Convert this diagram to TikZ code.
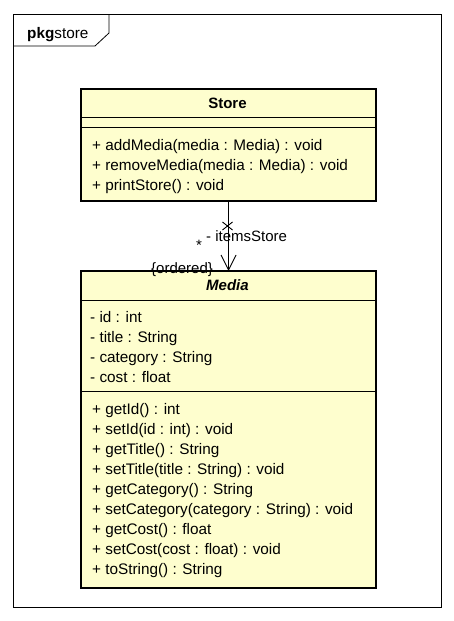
\documentclass[tikz,border=0pt]{standalone}
\usepackage{fontspec}
\setmainfont{Liberation Sans}
\definecolor{classfill}{HTML}{FEFECE}
\tikzset{
  classbox/.style={draw=black, line width=2.2pt, fill=classfill, minimum width=295pt, inner sep=0pt, anchor=north west},
  sepline/.style={line width=1pt},
  member/.style={anchor=base west, inner sep=0pt, font=\fontsize{15.3}{17}\selectfont},
  ctitle/.style={anchor=base, inner sep=0pt, font=\fontsize{15}{17}\selectfont\bfseries},
  lbl/.style={inner sep=0pt, font=\fontsize{15}{17}\selectfont},
  frameline/.style={line width=0.8pt}
}
\begin{document}
\begin{tikzpicture}[x=1pt,y=-1pt]
\useasboundingbox (0,0) rectangle (454,621);
% package frame
\draw[frameline] (13,14) rectangle (441,607);
\draw[frameline] (13,46) -- (95,46) -- (109,33) -- (109,14);
\node[anchor=base west, inner sep=0pt, font=\fontsize{15.3}{17}\selectfont] (pkg) at (27,38) {\textbf{pkg}store};

% Store class
\node[classbox, minimum height=112pt] (store) at (80,88) {};
\draw[sepline] (80,117) -- (375,117);
\draw[sepline] (80,127) -- (375,127);
\node[ctitle] (storetitle) at (227.5,108) {Store};
\node[member] (s1) at (92,150) {+ addMedia(media : Media) : void};
\node[member] (s2) at (92,170) {+ removeMedia(media : Media) : void};
\node[member] (s3) at (92,190) {+ printStore() : void};

% Media class
\node[classbox, minimum height=317pt] (media) at (80,270) {};
\draw[sepline] (80,300) -- (375,300);
\draw[sepline] (80,391) -- (375,391);
\node[ctitle, font=\fontsize{15}{17}\selectfont\bfseries\itshape] (mediatitle) at (227.5,290) {Media};
\node[member] (a1) at (90,322) {- id : int};
\node[member] (a2) at (90,342) {- title : String};
\node[member] (a3) at (90,362) {- category : String};
\node[member] (a4) at (90,382) {- cost : float};
\node[member] (m1) at (92,414) {+ getId() : int};
\node[member] (m2) at (92,434) {+ setId(id : int) : void};
\node[member] (m3) at (92,454) {+ getTitle() : String};
\node[member] (m4) at (92,474) {+ setTitle(title : String) : void};
\node[member] (m5) at (92,494) {+ getCategory() : String};
\node[member] (m6) at (92,514) {+ setCategory(category : String) : void};
\node[member] (m7) at (92,534) {+ getCost() : float};
\node[member] (m8) at (92,554) {+ setCost(cost : float) : void};
\node[member] (m9) at (92,574) {+ toString() : String};

% association
\draw[line width=0.9pt] (store.south) -- (media.north);
\coordinate (tip) at (media.north);
\coordinate (xc) at (227.5,226);
\draw[line width=0.9pt] (tip) -- ++(-7.5,-15) (tip) -- ++(7.5,-15);
\draw[line width=0.9pt] ([shift={(-5,-4)}]xc) -- ([shift={(5,4)}]xc) ([shift={(-5,4)}]xc) -- ([shift={(5,-4)}]xc);
\node[lbl, anchor=base west] (role) at (206,241) {- itemsStore};
\node[lbl, anchor=base] (mult) at (199,250) {*};
\node[lbl, anchor=base west] (ord) at (151,273) {\{ordered\}};
\end{tikzpicture}
\end{document}
